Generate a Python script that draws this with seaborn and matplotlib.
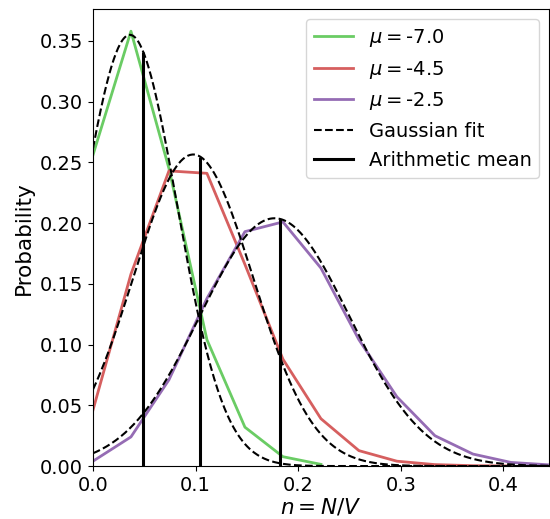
import numpy as np
import pandas as pd
import matplotlib
matplotlib.use("Agg")
import matplotlib.pyplot as plt
from matplotlib.lines import Line2D
import seaborn as sns

# ---- data ----
step = 1 / 27
green_p = [0.256, 0.358, 0.245, 0.104, 0.032, 0.0077, 0.0014]
red_p = [0.046, 0.158, 0.243, 0.241, 0.166, 0.088, 0.039, 0.0127, 0.004, 0.0012, 0.0003, 0.0001]
purple_p = [0.004, 0.024, 0.071, 0.138, 0.193, 0.201, 0.163, 0.104, 0.057, 0.025, 0.0099, 0.003, 0.001]
labels = [r"$\mu = $-7.0", r"$\mu = $-4.5", r"$\mu = $-2.5"]
colors = ["#6acc64", "#d65f5f", "#956cb4"]

# Gaussian fit parameters (amplitude, centre, width)
fit_amp = [0.355, 0.2565, 0.204]
fit_mu = [0.036, 0.0977, 0.177]
fit_sigma = [0.046, 0.0583, 0.0727]

# arithmetic means
arith_means = [0.0490, 0.1045, 0.1820]

series = [green_p, red_p, purple_p]

fig = plt.figure(figsize=(5.5, 5.19), dpi=100)
ax = fig.add_axes([0.169, 0.102, 0.829, 0.880])

for p, lab, col in zip(series, labels, colors):
    df = pd.DataFrame({"n": np.arange(len(p)) * step, "P": p})
    sns.lineplot(data=df, x="n", y="P", color=col, lw=2, label=lab, ax=ax)

xs = np.linspace(0, 12 * step, 400)
def gauss(x, a, m, s):
    return a * np.exp(-(x - m) ** 2 / (2 * s ** 2))

for a, m, s in zip(fit_amp, fit_mu, fit_sigma):
    ax.plot(xs, gauss(xs, a, m, s), "k--", lw=1.5)

for mm, a, m, s in zip(arith_means, fit_amp, fit_mu, fit_sigma):
    ax.vlines(mm, 0, gauss(mm, a, m, s), color="k", lw=2.2)

ax.set_xlim(0, 12 * step)
ax.set_ylim(0, 0.376)
ax.set_xticks([0.0, 0.1, 0.2, 0.3, 0.4])
ax.set_xticklabels(["0.0", "0.1", "0.2", "0.3", "0.4"])
ax.set_yticks([0.0, 0.05, 0.1, 0.15, 0.2, 0.25, 0.3, 0.35])
ax.set_yticklabels(["0.00", "0.05", "0.10", "0.15", "0.20", "0.25", "0.30", "0.35"])
ax.tick_params(labelsize=14)
ax.set_xlabel(r"$n = N/V$", fontsize=15.5, labelpad=1)
ax.set_ylabel("Probability", fontsize=15.5)

handles = [Line2D([], [], color=c, lw=2) for c in colors] + \
          [Line2D([], [], color="k", ls="--", lw=1.5), Line2D([], [], color="k", lw=2.2)]
ax.legend(handles, labels + ["Gaussian fit", "Arithmetic mean"], loc="upper right", fontsize=14)

fig.savefig("out.png", dpi=100)
